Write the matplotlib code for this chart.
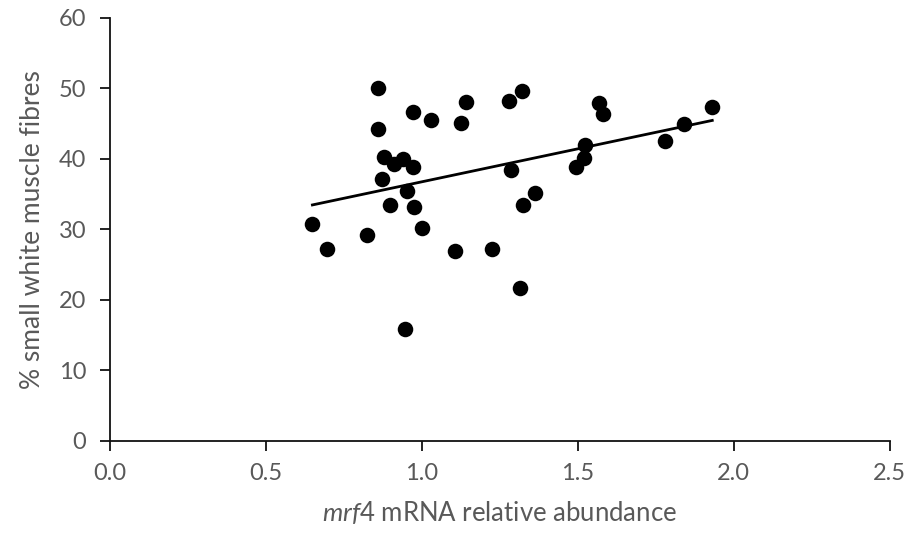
import numpy as np
import matplotlib.pyplot as plt

plt.rcParams.update({
    "font.family": ["Lato", "DejaVu Sans"],
    "font.size": 17,
    "mathtext.fontset": "custom",
    "mathtext.rm": "Lato",
    "mathtext.it": "Lato:italic",
})

# mrf4 relative abundance vs % small white muscle fibres
mrf4 = [0.649, 0.697, 0.823, 0.858, 0.858, 0.877, 0.871, 0.897, 0.909, 0.938,
        0.945, 0.951, 0.970, 0.970, 0.974, 0.999, 1.028, 1.105, 1.125, 1.141,
        1.224, 1.279, 1.285, 1.314, 1.321, 1.324, 1.362, 1.494, 1.520, 1.523,
        1.568, 1.581, 1.780, 1.841, 1.931]
small_fibres = [30.8, 27.2, 29.2, 50.1, 44.3, 40.3, 37.2, 33.5, 39.3, 40.0,
                15.9, 35.5, 46.7, 38.9, 33.2, 30.2, 45.5, 27.0, 45.1, 48.1,
                27.2, 48.2, 38.4, 21.7, 49.6, 33.5, 35.2, 38.9, 40.1, 42.0,
                47.9, 46.4, 42.6, 45.0, 47.4]
x_ticks = [0.0, 0.5, 1.0, 1.5, 2.0, 2.5]
y_ticks = [0, 10, 20, 30, 40, 50, 60]

x = np.array(mrf4)
y = np.array(small_fibres)

fig = plt.figure(figsize=(9.12, 5.45), dpi=100)
ax = fig.add_axes([0.1206, 0.191, 0.855, 0.776])

ax.scatter(x, y, s=125, color="black", zorder=3, linewidths=0)

# linear trendline over data range
slope, icpt = np.polyfit(x, y, 1)
xs = np.array([x.min(), x.max()])
ax.plot(xs, slope * xs + icpt, color="black", lw=2.0, zorder=2)

ax.set_xlim(0, 2.5)
ax.set_ylim(0, 60)
ax.set_xticks(x_ticks)
ax.set_xticklabels([f"{v:.1f}" for v in x_ticks])
ax.set_yticks(y_ticks)

for s in ["top", "right"]:
    ax.spines[s].set_visible(False)
for s in ["left", "bottom"]:
    ax.spines[s].set_linewidth(1.3)
    ax.spines[s].set_color("#111111")
ax.tick_params(direction="out", length=7, width=1.3, colors="#111111",
               labelcolor="#595959", labelsize=17)
ax.tick_params(axis="y", pad=10)
ax.tick_params(axis="x", pad=9)

ax.set_xlabel(r"$\it{mrf4}$ mRNA relative abundance", color="#595959",
              fontsize=18.5, labelpad=11)
ax.set_ylabel("% small white muscle fibres", color="#595959",
              fontsize=19, labelpad=10)

fig.savefig("out.png", dpi=100)
